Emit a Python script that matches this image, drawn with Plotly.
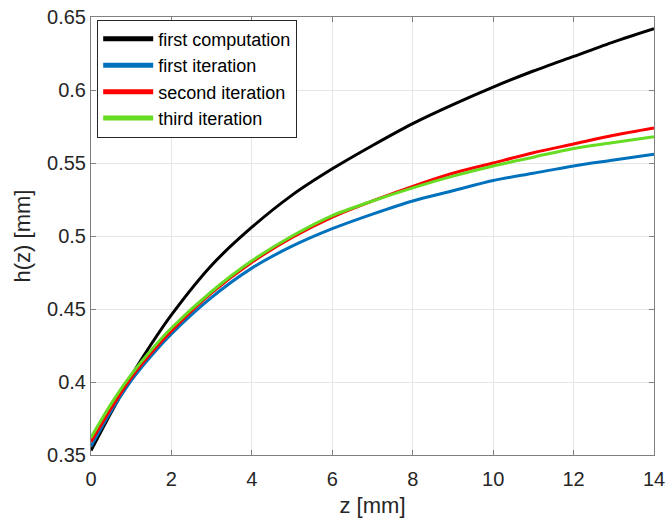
import plotly.graph_objects as go

z = [0, 0.5, 1, 1.5, 2, 3, 4, 5, 6, 7, 8, 9, 10, 11, 12, 13, 14]
first_computation = [0.353, 0.379, 0.404, 0.426, 0.446, 0.480, 0.506, 0.528, 0.546, 0.562, 0.577, 0.590, 0.602, 0.613, 0.623, 0.633, 0.642]
first_iteration = [0.356, 0.380, 0.401, 0.418, 0.433, 0.458, 0.478, 0.493, 0.505, 0.515, 0.524, 0.531, 0.538, 0.543, 0.548, 0.552, 0.556]
second_iteration = [0.359, 0.382, 0.403, 0.420, 0.435, 0.461, 0.482, 0.499, 0.513, 0.524, 0.534, 0.543, 0.550, 0.557, 0.563, 0.569, 0.574]
third_iteration = [0.362, 0.385, 0.405, 0.422, 0.437, 0.462, 0.483, 0.500, 0.514, 0.524, 0.533, 0.541, 0.548, 0.554, 0.560, 0.564, 0.568]

series = [
    ("first computation", first_computation, "#000000"),
    ("first iteration", first_iteration, "#0072BD"),
    ("second iteration", second_iteration, "#FF0000"),
    ("third iteration", third_iteration, "#66DD22"),
]

fig = go.Figure()
for name, y, c in series:
    fig.add_trace(go.Scatter(x=z, y=y, mode="lines", name=name,
                             line=dict(color=c, width=3, shape="spline", smoothing=0.8)))

FONT = "Liberation Sans, Arial"
axis_common = dict(showline=True, mirror="ticks", linecolor="#808080", linewidth=1,
                   ticks="inside", ticklen=5, tickcolor="#808080", automargin=False,
                   showgrid=True, gridcolor="#E6E6E6", gridwidth=1, zeroline=False,
                   tickfont=dict(family=FONT, size=20, color="#262626"),
                   title_font=dict(family=FONT, size=22, color="#262626"))

fig.update_xaxes(range=[0, 14], tickvals=[0, 2, 4, 6, 8, 10, 12, 14],
                 ticklabelstandoff=6,
                 title_text="z [mm]", title_standoff=8, **axis_common)
fig.update_yaxes(range=[0.35, 0.65], tickvals=[0.35, 0.4, 0.45, 0.5, 0.55, 0.6, 0.65],
                 ticktext=["0.35", "0.4", "0.45", "0.5", "0.55", "0.6", "0.65"],
                 title_text="h(z) [mm]", title_standoff=10, **axis_common)

fig.update_layout(
    width=667, height=527,
    margin=dict(l=91, r=13, t=17, b=72),
    plot_bgcolor="white", paper_bgcolor="white",
    showlegend=True,
    legend=dict(x=0.011, y=0.994, xanchor="left", yanchor="top",
                bgcolor="white", bordercolor="#262626", borderwidth=1,
                font=dict(family=FONT, size=18, color="#000000"),
                itemwidth=50, tracegroupgap=0, itemsizing="constant"),
)

fig.write_html("out.html")
